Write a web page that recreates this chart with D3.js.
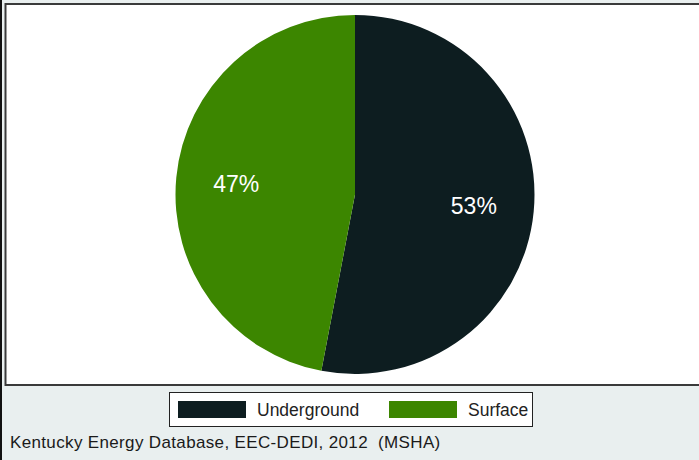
<!DOCTYPE html>
<html><head><meta charset="utf-8">
<script src="https://cdn.jsdelivr.net/npm/d3@7"></script>
<style>html,body{margin:0;padding:0;background:#e9efef;}svg{display:block;}</style>
</head><body>
<script>
const categories = ["Underground", "Surface"];
const values = [53, 47];
const labels = ["53%", "47%"];
const colors = ["#0d1d20", "#3c8600"];
const footer = "Kentucky Energy Database, EEC-DEDI, 2012  (MSHA)";

const W = 699, H = 460;
const svg = d3.select("body").append("svg").attr("width", W).attr("height", H)
  .style("font-family", "'Liberation Sans', Arial, sans-serif");

svg.append("rect").attr("width", W).attr("height", H).attr("fill", "#e9efef");
// left dark edge
svg.append("rect").attr("x", 0).attr("y", 0).attr("width", 2).attr("height", H).attr("fill", "#111");
// plot region
svg.append("rect").attr("x", 5.5).attr("y", 4).attr("width", W + 20).attr("height", 381)
  .attr("fill", "#ffffff").attr("stroke", "#3a3a3a").attr("stroke-width", 2);

const cx = 355, cy = 194.5, r = 179.5;
const pie = d3.pie().sort(null).value(d => d.v);
const arcs = pie(categories.map((c, i) => ({c, v: values[i], l: labels[i], col: colors[i]})));
const arc = d3.arc().innerRadius(0).outerRadius(r);
const labelArc = d3.arc().innerRadius(r * 0.665).outerRadius(r * 0.665);
const g = svg.append("g").attr("transform", `translate(${cx},${cy})`);
g.selectAll("path").data(arcs).enter().append("path")
  .attr("d", arc).attr("fill", d => d.data.col);
g.selectAll("text").data(arcs).enter().append("text")
  .attr("transform", d => `translate(${labelArc.centroid(d)})`)
  .attr("text-anchor", "middle").attr("dy", "0.36em")
  .attr("fill", "#ffffff").attr("font-size", 23).text(d => d.data.l);

// legend
const lg = svg.append("g");
lg.append("rect").attr("x", 169.5).attr("y", 392.5).attr("width", 363).attr("height", 34)
  .attr("fill", "#ffffff").attr("stroke", "#222").attr("stroke-width", 1);
const legX = [178, 389];
categories.forEach((c, i) => {
  lg.append("rect").attr("x", legX[i]).attr("y", 401).attr("width", 68).attr("height", 17).attr("fill", colors[i]);
  lg.append("text").attr("x", legX[i] + 79).attr("y", 416).attr("font-size", 17.5)
    .attr("fill", "#222").text(c);
});

svg.append("text").attr("x", 10).attr("y", 447.5).attr("font-size", 17)
  .attr("letter-spacing", 0.35).style("white-space", "pre")
  .attr("fill", "#1a1a1a").text(footer);
</script>
</body></html>
